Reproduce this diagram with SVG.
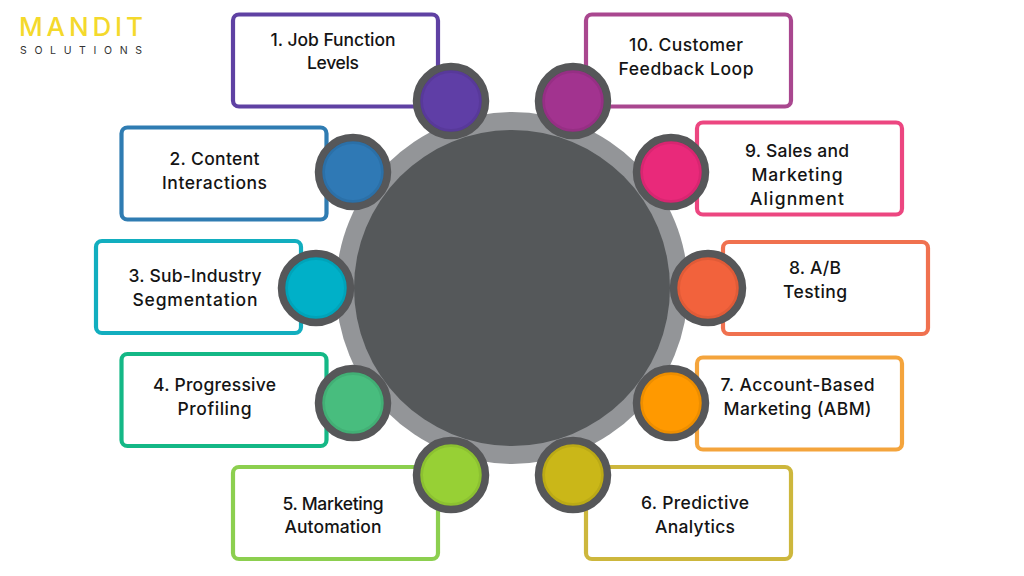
<svg xmlns="http://www.w3.org/2000/svg" width="1024" height="576" viewBox="0 0 1024 576">
<style>
.box{fill:#fff;stroke-width:4.2}
.dot{stroke:#565759;stroke-width:7.5}
.ring{fill:none;stroke:#000;stroke-width:3;stroke-opacity:.07}
text{font-family:"Inter","Noto Sans","Liberation Sans",sans-serif;font-size:17.5px;font-weight:500;fill:#141414;text-anchor:middle}
.logo{text-anchor:start}
</style>
<rect width="1024" height="576" fill="#fff"/>
<g id="logo">
<text class="logo" x="19" y="36" style="font-size:26px;font-weight:500;fill:#f4d92c" textLength="124" lengthAdjust="spacing">MANDIT</text>
<text class="logo" x="20" y="54" style="font-size:10.5px;font-weight:400;fill:#333" textLength="122" lengthAdjust="spacing">SOLUTIONS</text>
</g>
<g id="hub">
<circle cx="512" cy="288" r="176" fill="#939598"/>
<circle cx="512" cy="288" r="158" fill="#55585a"/>
</g>
<g id="node-1">
<rect class="box" x="233" y="14.5" width="205" height="92" rx="6" stroke="#5f41a3"/>
<text x="333" y="45.5" textLength="125">1. Job Function</text>
<text x="333" y="68.5" textLength="52">Levels</text>
<circle class="dot" cx="451" cy="101" r="34.5" fill="#5f3ea6"/>
<circle class="ring" cx="451" cy="101" r="29.5"/>
</g>
<g id="node-2">
<rect class="box" x="121.5" y="127.5" width="205" height="92" rx="6" stroke="#2f7cb2"/>
<text x="214.5" y="165" textLength="90">2. Content</text>
<text x="214.5" y="189" textLength="105">Interactions</text>
<circle class="dot" cx="353" cy="172" r="34.5" fill="#2f79b5"/>
<circle class="ring" cx="353" cy="172" r="29.5"/>
</g>
<g id="node-3">
<rect class="box" x="96" y="241" width="205" height="92" rx="6" stroke="#12aebf"/>
<text x="195" y="282" textLength="133">3. Sub-Industry</text>
<text x="195" y="306" textLength="125">Segmentation</text>
<circle class="dot" cx="316" cy="288" r="34.5" fill="#00b0c8"/>
<circle class="ring" cx="316" cy="288" r="29.5"/>
</g>
<g id="node-4">
<rect class="box" x="121.5" y="354" width="205" height="92" rx="6" stroke="#14b886"/>
<text x="214.5" y="391" textLength="123">4. Progressive</text>
<text x="214.5" y="415" textLength="74">Profiling</text>
<circle class="dot" cx="353" cy="403" r="34.5" fill="#48bd7e"/>
<circle class="ring" cx="353" cy="403" r="29.5"/>
</g>
<g id="node-5">
<rect class="box" x="233" y="467" width="205" height="92" rx="6" stroke="#8ccf4f"/>
<text x="333" y="510" textLength="101">5. Marketing</text>
<text x="333" y="533" textLength="97">Automation</text>
<circle class="dot" cx="451" cy="475" r="34.5" fill="#97d035"/>
<circle class="ring" cx="451" cy="475" r="29.5"/>
</g>
<g id="node-6">
<rect class="box" x="586" y="467" width="205" height="92" rx="6" stroke="#cdb73d"/>
<text x="695" y="509" textLength="108">6. Predictive</text>
<text x="695" y="533" textLength="80">Analytics</text>
<circle class="dot" cx="573" cy="475" r="34.5" fill="#cab718"/>
<circle class="ring" cx="573" cy="475" r="29.5"/>
</g>
<g id="node-7">
<rect class="box" x="697" y="357.5" width="205" height="92" rx="6" stroke="#f4a43c"/>
<text x="797.5" y="391" textLength="154">7. Account-Based</text>
<text x="797.5" y="415" textLength="148">Marketing (ABM)</text>
<circle class="dot" cx="671" cy="403" r="34.5" fill="#ff9900"/>
<circle class="ring" cx="671" cy="403" r="29.5"/>
</g>
<g id="node-8">
<rect class="box" x="723" y="242" width="205" height="92" rx="6" stroke="#f0714f"/>
<text x="815" y="274" textLength="52">8. A/B</text>
<text x="815" y="298" textLength="64">Testing</text>
<circle class="dot" cx="708" cy="288" r="34.5" fill="#f2623c"/>
<circle class="ring" cx="708" cy="288" r="29.5"/>
</g>
<g id="node-9">
<rect class="box" x="697" y="122.5" width="205" height="92" rx="6" stroke="#ec4680"/>
<text x="797" y="157" textLength="104">9. Sales and</text>
<text x="797" y="181" textLength="91">Marketing</text>
<text x="797" y="205" textLength="94">Alignment</text>
<circle class="dot" cx="671" cy="172" r="34.5" fill="#e9297a"/>
<circle class="ring" cx="671" cy="172" r="29.5"/>
</g>
<g id="node-10">
<rect class="box" x="586" y="14.5" width="205" height="92" rx="6" stroke="#a9478f"/>
<text x="686" y="51" textLength="114">10. Customer</text>
<text x="686" y="75" textLength="135">Feedback Loop</text>
<circle class="dot" cx="573" cy="101" r="34.5" fill="#a2338f"/>
<circle class="ring" cx="573" cy="101" r="29.5"/>
</g>
</svg>
